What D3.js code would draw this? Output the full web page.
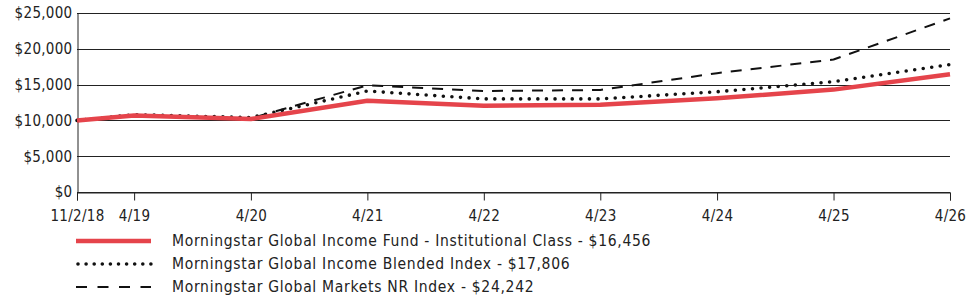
<!DOCTYPE html>
<html>
<head>
<meta charset="utf-8">
<script src="https://cdn.jsdelivr.net/npm/d3@7"></script>
<style>
  body { margin: 0; background: #fff; }
  svg { display: block; }
  text { font-family: "Liberation Sans Narrow", "Arial Narrow", "DejaVu Sans Condensed", sans-serif; fill: #222; }
</style>
</head>
<body>
<script>
// Growth of $10,000 data
const dates = ["2018-11-02", "2019-04-30", "2020-04-30", "2021-04-30", "2022-04-30",
               "2023-04-30", "2024-04-30", "2025-04-30", "2026-04-30"];
const tickLabels = ["11/2/18", "4/19", "4/20", "4/21", "4/22", "4/23", "4/24", "4/25", "4/26"];
const fundValues = [10000, 10700, 10200, 12750, 12050, 12200, 13100, 14300, 16456];
const blendedValues = [10000, 10800, 10400, 14100, 13000, 13000, 14000, 15400, 17806];
const marketsValues = [10000, 10700, 10300, 14900, 14100, 14250, 16600, 18500, 24242];
const yTicks = [0, 5000, 10000, 15000, 20000, 25000];
const seriesNames = [
  "Morningstar Global Income Fund - Institutional Class - $16,456",
  "Morningstar Global Income Blended Index - $17,806",
  "Morningstar Global Markets NR Index - $24,242"
];

const parseDate = d3.timeParse("%Y-%m-%d");
const xDates = dates.map(parseDate);

const width = 975, height = 304;
const margin = { top: 13, right: 25, bottom: 112, left: 77 };

const svg = d3.select("body").append("svg")
  .attr("width", width)
  .attr("height", height);

const x = d3.scaleTime()
  .domain(d3.extent(xDates))
  .range([margin.left, width - margin.right]);

const y = d3.scaleLinear()
  .domain([0, 25000])
  .range([height - margin.bottom, margin.top]);

// Gridlines
svg.append("g")
  .selectAll("line")
  .data(yTicks)
  .join("line")
  .attr("x1", margin.left)
  .attr("x2", width - margin.right)
  .attr("y1", d => Math.round(y(d)) + 0.5)
  .attr("y2", d => Math.round(y(d)) + 0.5)
  .attr("stroke", "#222")
  .attr("stroke-width", 1);

// Y axis
const yAxis = d3.axisLeft(y)
  .tickValues(yTicks)
  .tickSize(0)
  .tickPadding(5)
  .tickFormat(d => "$" + d3.format(",")(d));

svg.append("g")
  .attr("transform", `translate(${margin.left + 0.5},0)`)
  .call(yAxis)
  .call(g => g.select(".domain").attr("stroke", "#222"))
  .call(g => g.selectAll("text").attr("font-size", 15).attr("letter-spacing", 0.3).style("font-family", null));

// X axis
const xAxis = d3.axisBottom(x)
  .tickValues(xDates)
  .tickSize(8)
  .tickPadding(10)
  .tickFormat((d, i) => tickLabels[i]);

svg.append("g")
  .attr("transform", `translate(0,${Math.round(y(0)) + 0.5})`)
  .call(xAxis)
  .call(g => g.select(".domain").attr("stroke", "#222"))
  .call(g => g.selectAll(".tick line").attr("stroke", "#222"))
  .call(g => g.selectAll("text").attr("font-size", 15).attr("letter-spacing", 0.3).style("font-family", null));

// Line styles
const styles = [
  { stroke: "#e5444b", width: 4.5, dash: null, cap: "butt" },
  { stroke: "#111", width: 3.6, dash: "0 8.6", cap: "round" },
  { stroke: "#111", width: 2, dash: "11 9", cap: "butt" }
];

const line = d3.line()
  .x((d, i) => x(xDates[i]))
  .y(d => y(d));

const allSeries = [fundValues, blendedValues, marketsValues];

// Draw dashed, then dotted, then the fund line on top
[2, 1, 0].forEach(k => {
  svg.append("path")
    .datum(allSeries[k])
    .attr("fill", "none")
    .attr("stroke", styles[k].stroke)
    .attr("stroke-width", styles[k].width)
    .attr("stroke-dasharray", styles[k].dash)
    .attr("stroke-linecap", styles[k].cap)
    .attr("stroke-linejoin", "round")
    .attr("d", line);
});

// Legend
const legend = svg.append("g")
  .attr("transform", "translate(76,241)");

const rows = legend.selectAll("g")
  .data(seriesNames)
  .join("g")
  .attr("transform", (d, i) => `translate(0,${i * 23})`);

rows.append("line")
  .attr("x1", (d, i) => i === 1 ? 2 : 0)
  .attr("x2", 75)
  .attr("y1", 0)
  .attr("y2", 0)
  .attr("stroke", (d, i) => styles[i].stroke)
  .attr("stroke-width", (d, i) => styles[i].width)
  .attr("stroke-dasharray", (d, i) => i === 1 ? "0 8.1" : (i === 2 ? "11 10.5" : null))
  .attr("stroke-linecap", (d, i) => styles[i].cap);

rows.append("text")
  .attr("x", 96)
  .attr("y", 0)
  .attr("dy", "0.35em")
  .attr("font-size", 15.5)
  .attr("letter-spacing", 0.7)
  .text(d => d);
</script>
</body>
</html>
